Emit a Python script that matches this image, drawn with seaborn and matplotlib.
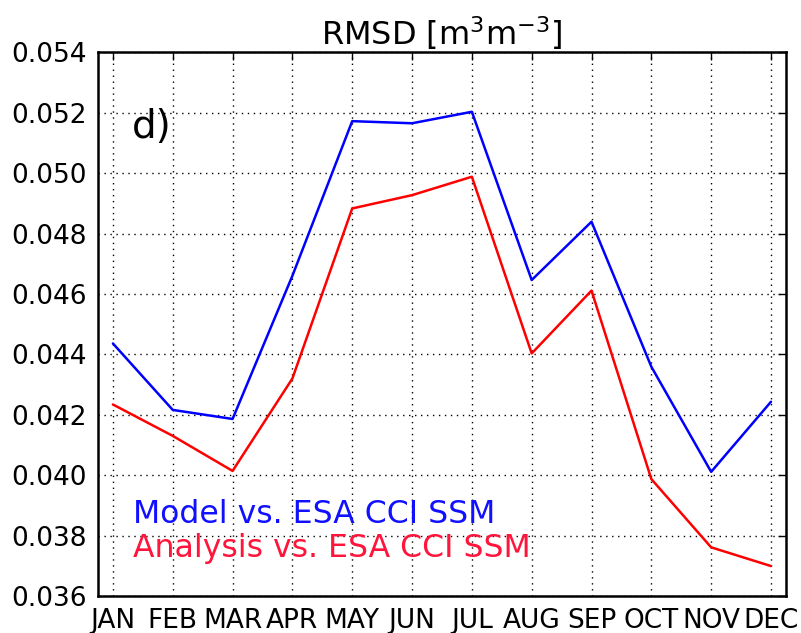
import matplotlib
matplotlib.use("Agg")
import matplotlib.pyplot as plt
from matplotlib.ticker import FormatStrFormatter, MultipleLocator
import seaborn as sns
import pandas as pd

months = ['JAN', 'FEB', 'MAR', 'APR', 'MAY', 'JUN',
          'JUL', 'AUG', 'SEP', 'OCT', 'NOV', 'DEC']
month_num = list(range(1, 13))
model_rmsd = [0.04436, 0.04216, 0.04186, 0.0466, 0.05172, 0.05165,
              0.05203, 0.04646, 0.04839, 0.04359, 0.04011, 0.04243]
analysis_rmsd = [0.04234, 0.0413, 0.04014, 0.0432, 0.04883, 0.04927,
                 0.04988, 0.04403, 0.04611, 0.03987, 0.03761, 0.03699]
series_names = ['Model vs. ESA CCI SSM', 'Analysis vs. ESA CCI SSM']

df = pd.DataFrame({
    'month': month_num * 2,
    'rmsd': model_rmsd + analysis_rmsd,
    'series': [series_names[0]] * 12 + [series_names[1]] * 12,
})

sns.set_style('white')
plt.rcParams['font.family'] = ['DejaVu Sans']
plt.rcParams['mathtext.default'] = 'regular'
plt.rcParams['text.color'] = 'black'

fig = plt.figure(figsize=(8.01, 6.33), dpi=100)
ax = fig.add_axes([0.1223, 0.0585, 0.8589, 0.8589])

sns.lineplot(data=df, x='month', y='rmsd', hue='series',
             palette={series_names[0]: '#0000ff', series_names[1]: '#ff0000'},
             linewidth=1.8, legend=False, ax=ax)

ax.set_xlim(0.75, 12.25)
ax.set_ylim(0.036, 0.054)
ax.set_xticks(month_num)
ax.set_xticklabels(months)
ax.yaxis.set_major_locator(MultipleLocator(0.002))
ax.yaxis.set_major_formatter(FormatStrFormatter('%.3f'))
ax.set_xlabel('')
ax.set_ylabel('')

ax.grid(True, color='black', linestyle=(0, (1, 3.3)), linewidth=1.0)
ax.tick_params(axis='both', direction='in', top=True, right=True,
               length=6, width=1, labelsize=19, colors='black')
ax.tick_params(axis='y', pad=8)
ax.tick_params(axis='x', pad=9)
for s in ax.spines.values():
    s.set_visible(True)
    s.set_color('black')
    s.set_linewidth(1.8)

ax.set_title(r'RMSD [m$^3$m$^{-3}$]', fontsize=23, pad=5, color='black')

ax.text(0.049, 0.842, 'd)', transform=ax.transAxes, fontsize=28, color='black')
ax.text(0.051, 0.134, series_names[0], transform=ax.transAxes,
        fontsize=22.7, color='#1010ff')
ax.text(0.051, 0.072, series_names[1], transform=ax.transAxes,
        fontsize=22.7, color='#ff143c')

fig.savefig('out.png', dpi=100)
